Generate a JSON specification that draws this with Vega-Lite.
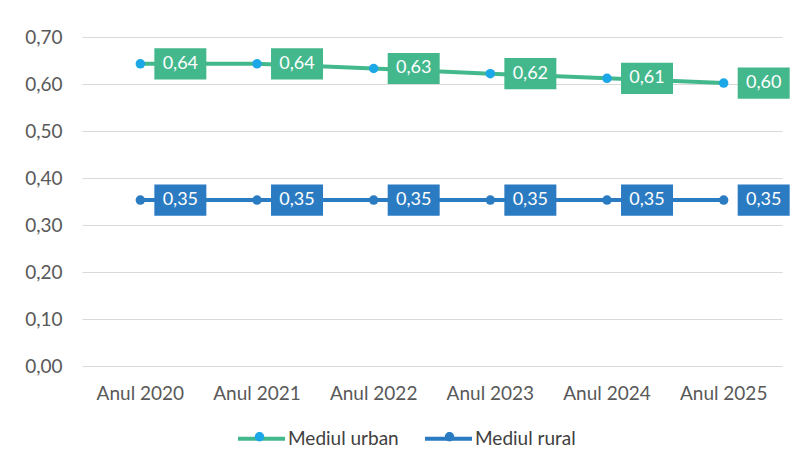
{
  "$schema": "https://vega.github.io/schema/vega-lite/v6.json",
  "width": 700,
  "height": 329,
  "autosize": "none",
  "padding": {"left": 82, "top": 37, "right": 11, "bottom": 98},
  "background": "white",
  "config": {
    "view": {"stroke": null},
    "font": "Lato",
    "axis": {"labelFont": "Lato", "labelColor": "#595959", "labelFontSize": 19},
    "legend": {"labelFont": "Lato"}
  },
  "data": {
    "values": [
      {"year": "Anul 2020", "series": "Mediul urban", "value": 0.643},
      {"year": "Anul 2021", "series": "Mediul urban", "value": 0.643},
      {"year": "Anul 2022", "series": "Mediul urban", "value": 0.633},
      {"year": "Anul 2023", "series": "Mediul urban", "value": 0.622},
      {"year": "Anul 2024", "series": "Mediul urban", "value": 0.612},
      {"year": "Anul 2025", "series": "Mediul urban", "value": 0.602},
      {"year": "Anul 2020", "series": "Mediul rural", "value": 0.353},
      {"year": "Anul 2021", "series": "Mediul rural", "value": 0.353},
      {"year": "Anul 2022", "series": "Mediul rural", "value": 0.353},
      {"year": "Anul 2023", "series": "Mediul rural", "value": 0.353},
      {"year": "Anul 2024", "series": "Mediul rural", "value": 0.353},
      {"year": "Anul 2025", "series": "Mediul rural", "value": 0.353}
    ]
  },
  "transform": [
    {"calculate": "replace(format(datum.value, '.2f'), '.', ',')", "as": "label"},
    {"calculate": "datum.series === 'Mediul urban' ? 'u' : 'r'", "as": "dot"}
  ],
  "encoding": {
    "x": {
      "field": "year", "type": "nominal", "title": null,
      "scale": {"type": "band", "paddingInner": 0, "paddingOuter": 0},
      "axis": {"labelAngle": 0, "ticks": false, "domain": false, "labelPadding": 18}
    },
    "y": {
      "field": "value", "type": "quantitative", "title": null,
      "scale": {"domain": [0, 0.7], "nice": false},
      "axis": {
        "values": [0, 0.1, 0.2, 0.3, 0.4, 0.5, 0.6, 0.7],
        "labelExpr": "replace(format(datum.value, '.2f'), '.', ',')",
        "ticks": false, "domain": false, "gridColor": "#d9d9d9", "labelPadding": 20
      }
    }
  },
  "layer": [
    {
      "mark": {"type": "line", "strokeWidth": 4},
      "encoding": {
        "color": {
          "field": "series", "type": "nominal",
          "scale": {"domain": ["Mediul urban", "Mediul rural"], "range": ["#44b88d", "#2b7bc2"]},
          "legend": {
            "title": null, "orient": "none", "direction": "horizontal",
            "legendX": 154, "legendY": 376,
            "symbolType": "M-1,0H1",
            "symbolSize": 2209, "symbolStrokeWidth": 4,
            "labelFontSize": 19, "labelColor": "#404040", "labelOffset": 1,
            "columnPadding": 18
          }
        }
      }
    },
    {
      "mark": {"type": "point", "filled": true, "size": 90, "opacity": 1},
      "encoding": {
        "fill": {
          "field": "dot", "type": "nominal",
          "scale": {"domain": ["u", "r"], "range": ["#1ca7e6", "#2b7bc2"]},
          "legend": {
            "title": null, "orient": "none", "direction": "horizontal",
            "legendX": 154, "legendY": 376,
            "labelExpr": "''",
            "symbolType": "M-0.2,0A0.2,0.2 0 1,1 0.2,0A0.2,0.2 0 1,1 -0.2,0",
            "symbolSize": 2209, "symbolStrokeWidth": 0, "symbolOpacity": 1,
            "labelFontSize": 19, "labelOffset": 1,
            "columnPadding": 142
          }
        }
      }
    },
    {
      "mark": {"type": "point", "filled": true, "opacity": 1, "size": 2704,
               "shape": "M-1,-0.6H1V0.6H-1Z"},
      "encoding": {
        "x": {"field": "year", "type": "nominal", "bandPosition": 0.843},
        "color": {"field": "series", "type": "nominal"}
      }
    },
    {
      "mark": {"type": "text", "color": "white", "fontSize": 18, "font": "Lato"},
      "encoding": {
        "x": {"field": "year", "type": "nominal", "bandPosition": 0.843},
        "text": {"field": "label"}
      }
    }
  ]
}
